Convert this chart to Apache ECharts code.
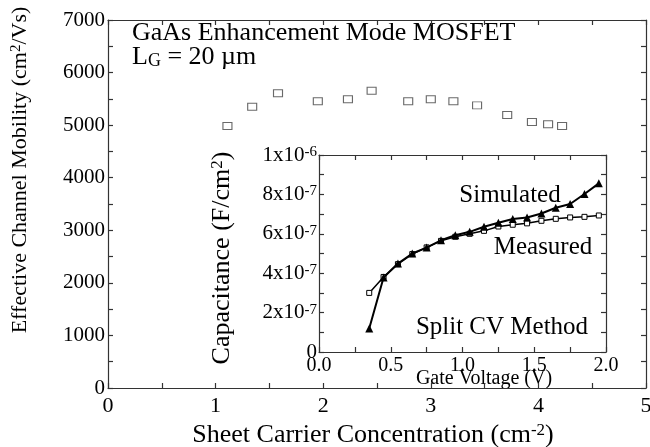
<!DOCTYPE html>
<html>
<head>
<meta charset="utf-8">
<script src="https://cdn.jsdelivr.net/npm/echarts@6/dist/echarts.min.js"></script>
<style>
  html, body { margin: 0; padding: 0; background: #fff; }
  #chart { width: 650px; height: 447px; }
</style>
</head>
<body>
<div id="chart"></div>
<script>
// Effective channel mobility vs sheet carrier concentration
const sheetConc = [1.11, 1.34, 1.58, 1.95, 2.23, 2.45, 2.79, 3.00, 3.21, 3.43, 3.71, 3.94, 4.09, 4.22];
const mobility  = [4984, 5351, 5606, 5454, 5492, 5655, 5454, 5492, 5454, 5377, 5193, 5060, 5016, 4984];

// Split CV inset: gate voltage (V) and capacitance (F/cm^2)
const gateVoltage  = [0.35, 0.45, 0.55, 0.65, 0.75, 0.85, 0.95, 1.05, 1.15, 1.25, 1.35, 1.45, 1.55, 1.65, 1.75, 1.85, 1.95];
const measuredCap  = [3.00e-7, 3.81e-7, 4.46e-7, 4.97e-7, 5.31e-7, 5.64e-7, 5.85e-7, 6.00e-7, 6.15e-7, 6.37e-7, 6.46e-7, 6.53e-7, 6.66e-7, 6.76e-7, 6.83e-7, 6.86e-7, 6.93e-7];
const simulatedCap = [1.19e-7, 3.78e-7, 4.49e-7, 5.00e-7, 5.30e-7, 5.67e-7, 5.93e-7, 6.10e-7, 6.36e-7, 6.56e-7, 6.75e-7, 6.83e-7, 7.03e-7, 7.32e-7, 7.51e-7, 8.02e-7, 8.56e-7];

const mainXTicks = ['0', '1', '2', '3', '4', '5'];
const mainYTicks = ['0', '1000', '2000', '3000', '4000', '5000', '6000', '7000'];
const insetXTicks = ['0.0', '0.5', '1.0', '1.5', '2.0'];

const FONT = '"Liberation Serif", "Times New Roman", serif';
const INK = '#000';
const FRAME = '#333';

const pairs = (xs, ys) => xs.map((x, i) => [x, ys[i]]);

function frameAxis(extra) {
  return Object.assign({
    type: 'value',
    axisLine: { show: true, onZero: false, lineStyle: { color: FRAME, width: 1.2 } },
    axisTick: { show: true, inside: true, length: 5, lineStyle: { color: FRAME, width: 1.2 } },
    minorTick: { show: true, splitNumber: 2, length: 5, lineStyle: { color: FRAME, width: 1.2 } },
    splitLine: { show: false },
    axisLabel: { show: false }
  }, extra);
}

const sup = { fontFamily: FONT, color: INK, verticalAlign: 'top' };

const chart = echarts.init(document.getElementById('chart'), null, { renderer: 'canvas' });

chart.setOption({
  backgroundColor: '#fff',
  animation: false,
  grid: [
    { left: 108, top: 20, width: 538, height: 368, containLabel: false, outerBoundsMode: 'none' },
    { left: 319, top: 155, width: 287, height: 197, containLabel: false, outerBoundsMode: 'none' }
  ],
  xAxis: [
    frameAxis({
      gridIndex: 0, position: 'bottom', min: 0, max: 5, interval: 1,
      axisLabel: {
        show: true, margin: 7, fontFamily: FONT, fontSize: 22, color: INK,
        formatter: v => mainXTicks[Math.round(v)]
      }
    }),
    frameAxis({ gridIndex: 0, position: 'top', min: 0, max: 5, interval: 1 }),
    frameAxis({
      gridIndex: 1, position: 'bottom', min: 0, max: 2, interval: 0.5,
      axisLabel: {
        show: true, margin: 4, fontFamily: FONT, fontSize: 20, color: INK,
        formatter: v => insetXTicks[Math.round(v * 2)]
      }
    }),
    frameAxis({ gridIndex: 1, position: 'top', min: 0, max: 2, interval: 0.5 })
  ],
  yAxis: [
    frameAxis({
      gridIndex: 0, position: 'left', min: 0, max: 7000, interval: 1000,
      axisLabel: {
        show: true, margin: 3, fontFamily: FONT, fontSize: 21, color: INK,
        formatter: v => mainYTicks[Math.round(v / 1000)]
      }
    }),
    frameAxis({ gridIndex: 0, position: 'right', min: 0, max: 7000, interval: 1000 }),
    frameAxis({
      gridIndex: 1, position: 'left', min: 0, max: 1e-6, interval: 2e-7,
      axisLabel: {
        show: true, margin: 2, fontFamily: FONT, fontSize: 21, color: INK,
        formatter: v => {
          const n = Math.round(v * 1e7);
          if (n === 0) return '{m|0}';
          if (n === 10) return '{m|1x10}{e|-6}';
          return '{m|' + n + 'x10}{e|-7}';
        },
        rich: {
          m: { fontFamily: FONT, fontSize: 21, color: INK },
          e: Object.assign({ fontSize: 15 }, sup)
        }
      }
    }),
    frameAxis({ gridIndex: 1, position: 'right', min: 0, max: 1e-6, interval: 2e-7 })
  ],
  series: [
    {
      name: 'Mobility',
      type: 'scatter',
      xAxisIndex: 0, yAxisIndex: 0,
      symbol: 'rect', symbolSize: [9, 7],
      itemStyle: { color: '#fff', borderColor: '#444', borderWidth: 1 },
      data: pairs(sheetConc, mobility),
      z: 3
    },
    {
      name: 'Measured',
      type: 'line',
      xAxisIndex: 2, yAxisIndex: 2,
      symbol: 'rect', symbolSize: 5, showAllSymbol: true,
      lineStyle: { color: '#000', width: 1.5 },
      itemStyle: { color: '#fff', borderColor: '#000', borderWidth: 1 },
      data: pairs(gateVoltage, measuredCap),
      z: 4
    },
    {
      name: 'Simulated',
      type: 'line',
      xAxisIndex: 2, yAxisIndex: 2,
      symbol: 'triangle', symbolSize: 8, showAllSymbol: true,
      lineStyle: { color: '#000', width: 2 },
      itemStyle: { color: '#000' },
      data: pairs(gateVoltage, simulatedCap),
      z: 5
    }
  ],
  graphic: [
    {
      type: 'text', x: 20, y: 170, rotation: Math.PI / 2,
      style: {
        text: '{t|Effective Channel Mobility (cm}{s|2}{t|/Vs)}',
        align: 'center', verticalAlign: 'middle',
        rich: { t: { fontFamily: FONT, fontSize: 22, color: INK }, s: Object.assign({ fontSize: 15 }, sup) }
      }
    },
    {
      type: 'text', x: 373, y: 435,
      style: {
        text: '{t|Sheet Carrier Concentration (cm}{s|-2}{t|)}',
        align: 'center', verticalAlign: 'middle',
        rich: { t: { fontFamily: FONT, fontSize: 26, color: INK }, s: Object.assign({ fontSize: 17 }, sup) }
      }
    },
    {
      type: 'text', x: 132, y: 33,
      style: {
        text: 'GaAs Enhancement Mode MOSFET',
        font: '26px ' + FONT, fill: INK, align: 'left', verticalAlign: 'middle'
      }
    },
    {
      type: 'text', x: 132, y: 57,
      style: {
        text: '{t|L}{g|G}{t| = 20 \u00b5m}',
        align: 'left', verticalAlign: 'middle',
        rich: {
          t: { fontFamily: FONT, fontSize: 26, color: INK },
          g: { fontFamily: FONT, fontSize: 18, color: INK, verticalAlign: 'bottom' }
        }
      }
    },
    {
      type: 'text', x: 222, y: 258, rotation: Math.PI / 2,
      style: {
        text: '{t|Capacitance (F/cm}{s|2}{t|)}',
        align: 'center', verticalAlign: 'middle',
        rich: { t: { fontFamily: FONT, fontSize: 26, color: INK }, s: Object.assign({ fontSize: 17 }, sup) }
      }
    },
    {
      type: 'text', x: 484, y: 379,
      style: {
        text: 'Gate Voltage (V)',
        font: '20px ' + FONT, fill: INK, align: 'center', verticalAlign: 'middle'
      }
    },
    {
      type: 'text', x: 510, y: 195,
      style: { text: 'Simulated', font: '25px ' + FONT, fill: INK, align: 'center', verticalAlign: 'middle' }
    },
    {
      type: 'text', x: 543, y: 247,
      style: { text: 'Measured', font: '25px ' + FONT, fill: INK, align: 'center', verticalAlign: 'middle' }
    },
    {
      type: 'text', x: 502, y: 327,
      style: { text: 'Split CV Method', font: '25px ' + FONT, fill: INK, align: 'center', verticalAlign: 'middle' }
    }
  ]
});
</script>
</body>
</html>
